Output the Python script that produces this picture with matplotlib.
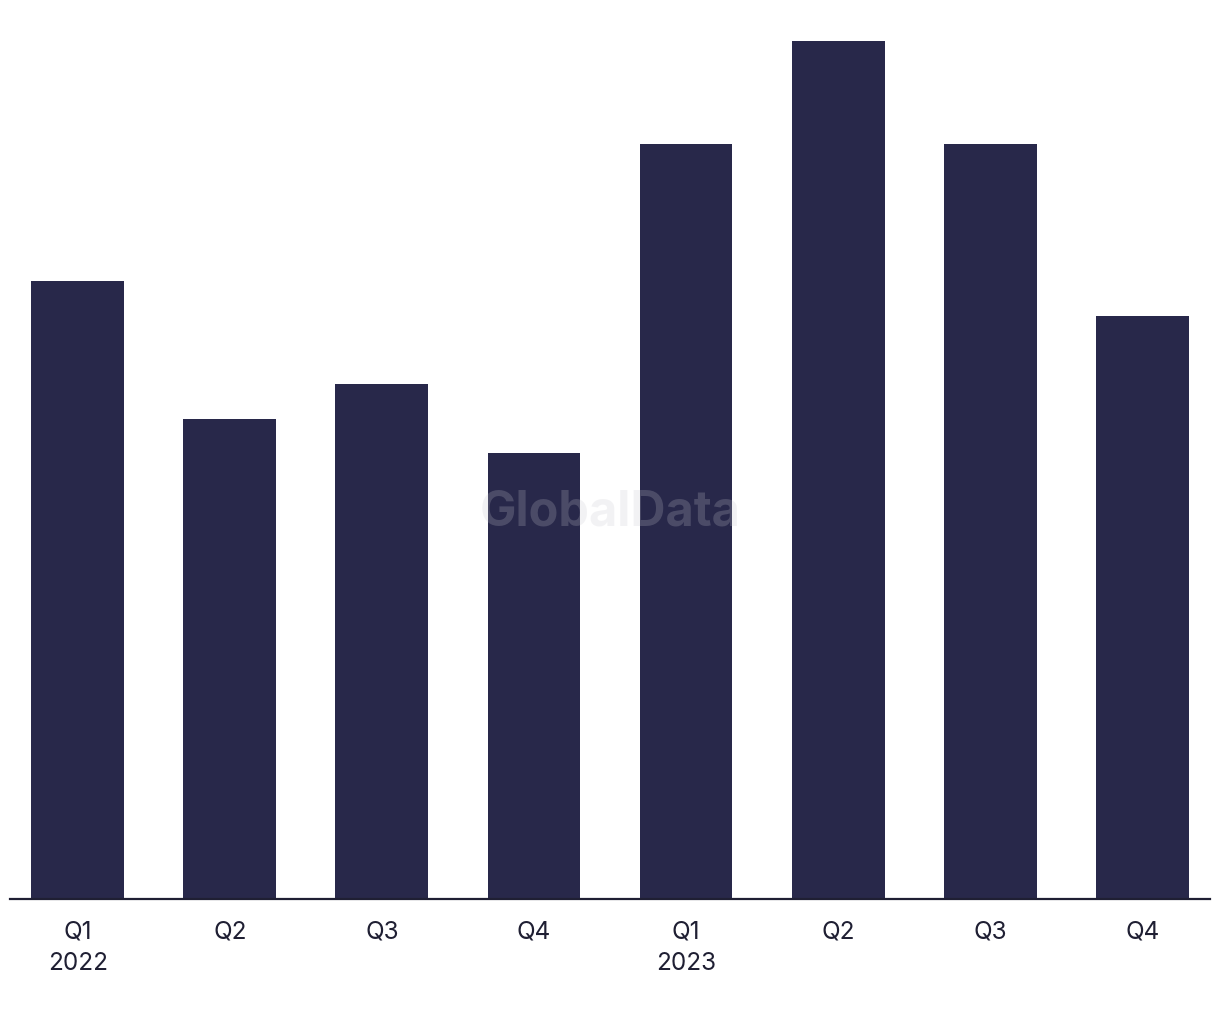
import matplotlib.pyplot as plt
import numpy as np

quarters = ["Q1\n2022", "Q2", "Q3", "Q4", "Q1\n2023", "Q2", "Q3", "Q4"]
values = [18, 14, 15, 13, 22, 25, 22, 17]

bar_color = "#28284a"
text_color = "#1f1f33"

plt.rcParams["font.family"] = ["Inter", "DejaVu Sans"]

fig = plt.figure(figsize=(12.2, 10.2), dpi=100)
ax = fig.add_axes([10 / 1220, 1 - 900 / 1020, 1200 / 1220, (900 - 42) / 1020])

x = np.arange(len(quarters))
ax.bar(x, values, width=0.61, color=bar_color, zorder=2)

ax.set_xlim(-0.445, len(quarters) - 0.555)
ax.set_ylim(0, max(values))
ax.set_xticks(x)
ax.set_xticklabels(quarters, fontsize=17.5, color=text_color, linespacing=1.45)
ax.tick_params(axis="x", length=0, pad=15)
ax.set_yticks([])

for side in ["top", "right", "left"]:
    ax.spines[side].set_visible(False)
ax.spines["bottom"].set_color(text_color)
ax.spines["bottom"].set_linewidth(1.6)

fig.text(610 / 1220, 1 - 512 / 1020, "GlobalData", fontsize=35, fontweight="bold",
         color="#c8c8d0", alpha=0.22, ha="center", va="center", zorder=5)

fig.savefig("out.png", dpi=100)
